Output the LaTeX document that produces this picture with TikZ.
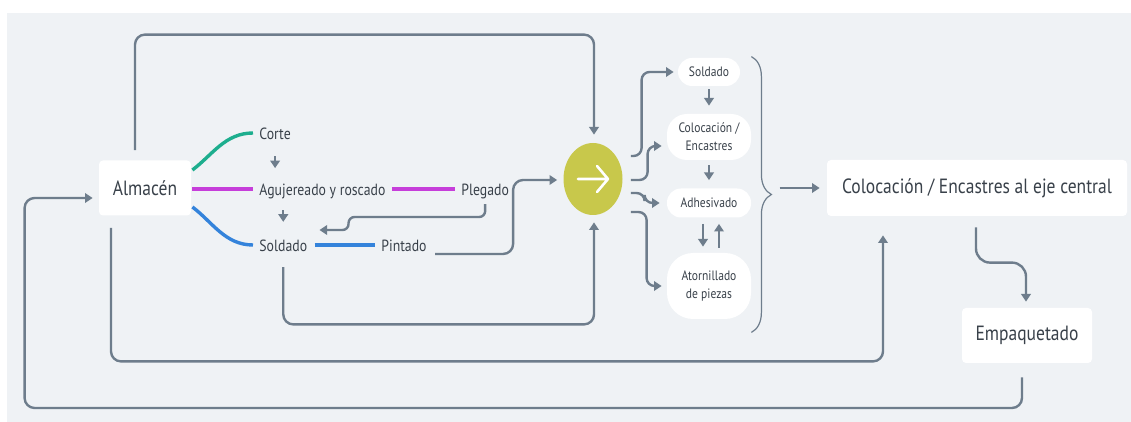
\documentclass[tikz,border=0pt]{standalone}
\usepackage{fontspec}
\setmainfont[FakeStretch=0.85]{PT Sans}
\usetikzlibrary{calc,shapes.geometric,arrows.meta,decorations.pathreplacing}
\definecolor{fondo}{HTML}{EFF2F5}
\definecolor{linea}{HTML}{6E7D8C}
\definecolor{texto}{HTML}{39414A}
\definecolor{verde}{HTML}{1DAE8E}
\definecolor{morado}{HTML}{C63EDA}
\definecolor{azul}{HTML}{3483DB}
\definecolor{oliva}{HTML}{C8C84B}
\begin{document}
\begin{tikzpicture}[x=0.5pt,y=-0.5pt,
    caja/.style={fill=white,rounded corners=2pt,text=texto,font=\fontsize{10.3}{12}\selectfont},
    paso/.style={fill=white,rounded corners=7pt,text=texto,align=center,minimum width=42pt,font=\fontsize{6.8}{9}\selectfont},
    etiq/.style={inner sep=0pt,anchor=west,text=texto,text height=1.5ex,text depth=.25ex,font=\fontsize{8.1}{9}\selectfont},
    flecha/.style={draw=linea,line width=1.2pt,rounded corners=5pt,-{Triangle[length=3.8pt,width=4.8pt]}},
    rama/.style={line width=1.7pt}]
    \fill[fondo] (7,13) rectangle (1131,422);
    \useasboundingbox (0,0) rectangle (1131,422);
    \node[caja,minimum width=46pt,minimum height=27.5pt] (alm) at (145,188) {Almacén};
    \node[etiq] (corte) at (259,133) {Corte};
    \node[etiq] (aguj) at (259,189) {Agujereado y roscado};
    \node[etiq] (sold) at (259,245) {Soldado};
    \node[etiq] (pint) at (381,245) {Pintado};
    \node[etiq] (pleg) at (461,189) {Plegado};
    \node[ellipse,fill=oliva,minimum width=29.5pt,minimum height=36pt,inner sep=0pt] (hub) at (593,179) {};
    \node[paso,minimum width=31pt,minimum height=14pt] (sold2) at (709,72) {Soldado};
    \node[paso,minimum height=23pt,rounded corners=10pt] (col) at (709,137) {Colocación /\\ Encastres};
    \node[paso,minimum height=14.5pt] (adh) at (709,203) {Adhesivado};
    \node[paso,minimum height=33pt,rounded corners=13pt] (ator) at (709,286) {Atornillado\\ de piezas};
    \node[caja,minimum width=150pt,minimum height=28pt] (eje) at (977,188) {Colocación / Encastres al eje central};
    \node[caja,minimum width=65pt,minimum height=27.5pt] (emp) at (1027,335.5) {Empaquetado};

    \draw[rama,verde] ($(alm.east)+(1,-18)$) .. controls +(20,-15) and +(-28,0) .. ($(corte.west)+(-6,0)$);
    \draw[rama,morado] ($(alm.east)+(1,1)$) -- ($(aguj.west)+(-6,0)$);
    \draw[rama,azul] ($(alm.east)+(1,19)$) .. controls +(20,15) and +(-28,0) .. ($(sold.west)+(-6,0)$);
    \draw[rama,morado] ($(aguj.east)+(6,0)$) -- ($(pleg.west)+(-6,0)$);
    \draw[rama,azul] ($(sold.east)+(7,0)$) -- ($(pint.west)+(-6,0)$);

    \draw[flecha] ($(corte.south)+(0,14)$) -- ++(0,12);
    \draw[flecha] ($(sold.north |- aguj.south)+(0,12)$) -- ($(sold.north)+(0,-14)$);
    \draw[flecha,rounded corners=3pt] ($(pleg.south)+(0,6)$) |- ($(sold.east)+(41,-28)$) |- ($(sold.east)+(12,-15)$);
    \draw[flecha] ($(pint.east)+(8,9)$) -| ($(hub.west)+(-50,1)$) -- ($(hub.west)+(-6,1)$);
    \draw[flecha] ($(alm.north)+(-10,-10)$) |- ($(hub.north)+(1,-108)$) -- ($(hub.north)+(1,-8)$);
    \draw[flecha] ($(sold.south)+(0,13)$) |- ($(hub.south)+(1,109)$) -- ($(hub.south)+(1,7)$);
    \draw[flecha] ($(alm.south)+(-34,12)$) |- ($(eje.south)+(-94,145)$) -- ($(eje.south)+(-94,19)$);
    \draw[flecha] ($(emp.south)+(-5,14)$) |- ($(alm.west)+(-74,220)$) |- ($(alm.west)+(-6,10)$);

    \draw[white,line width=1.3pt,line cap=round,line join=round] ($(hub)+(-15,0)$) -- ($(hub)+(15,0)$)
        ($(hub)+(4,-13)$) -- ($(hub)+(15,0)$) -- ($(hub)+(4,13)$);

    \draw[flecha,rounded corners=4pt] ($(hub.east)+(8,-23)$) -| ($(sold2.west)+(-36,0)$) -- ($(sold2.west)+(-4,0)$);
    \draw[flecha,rounded corners=4pt] ($(hub.east)+(8,1)$) -| ($(col.west)+(-19,9)$) -- ($(col.west)+(-5,9)$);
    \draw[flecha,rounded corners=4pt] ($(hub.east)+(8,14)$) -| ($(adh.west)+(-22,0)$) -- ($(adh.west)+(-7,0)$);
    \draw[flecha,rounded corners=4pt] ($(hub.east)+(8,33)$) -| ($(ator.west)+(-20,0)$) -- ($(ator.west)+(-5,0)$);
    \draw[flecha] ($(sold2.south)+(0,3)$) -- ($(col.north)+(0,-8)$);
    \draw[flecha] ($(col.south)+(0,5)$) -- ($(adh.north)+(0,-8)$);
    \draw[flecha] ($(adh.south)+(-6,6)$) -- ($(ator.north)+(-6,-6)$);
    \draw[flecha] ($(ator.north)+(10,-5)$) -- ($(adh.south)+(10,6)$);

    \draw[linea,line width=0.6pt,decorate,decoration={brace,amplitude=10pt}] ($(sold2.north -| ator.east)+(0,-1)$) -- ($(ator.south east)+(0,13)$);
    \draw[flecha] ($(eje.west)+(-47,0)$) -- ($(eje.west)+(-7,0)$);
    \draw[flecha,rounded corners=7pt] ($(eje.south)+(-1,11)$) |- ($(emp.north)+(-1,-45)$) -- ($(emp.north)+(-1,-6)$);
\end{tikzpicture}
\end{document}
